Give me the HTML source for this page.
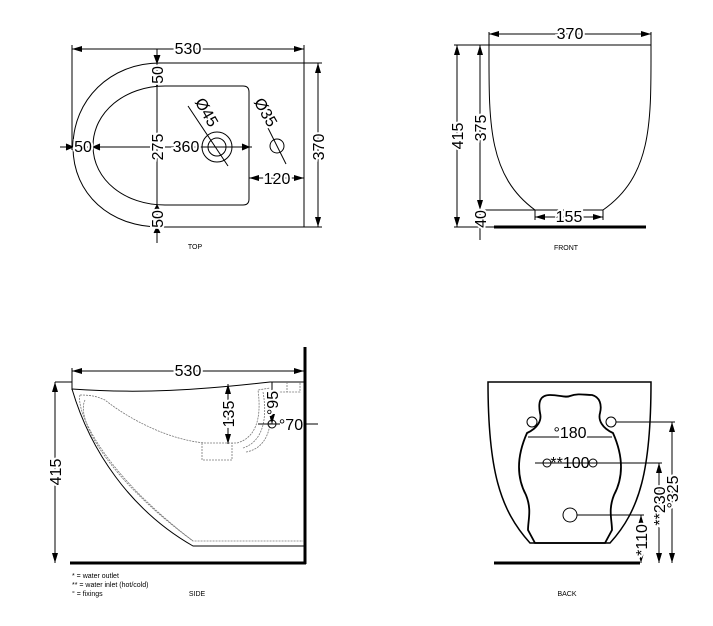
<!DOCTYPE html>
<html><head><meta charset="utf-8"><style>
html,body{margin:0;padding:0;background:#fff;}
svg{display:block;font-family:"Liberation Sans",sans-serif;}
.d{font-size:16px;fill:#000;}
.s{font-size:7px;fill:#000;}
</style></head><body>
<svg width="713" height="626" viewBox="0 0 713 626" xmlns="http://www.w3.org/2000/svg">
<defs>
<marker id="a" viewBox="0 0 10 6" refX="10" refY="3" markerWidth="10" markerHeight="6" orient="auto-start-reverse" markerUnits="userSpaceOnUse"><path d="M0,0 L10,3 L0,6 z" fill="#000"/></marker>
</defs>
<g fill="none" stroke="#000" stroke-width="1">
<!-- TOP VIEW -->
<path d="M304,63 L160,63 C110,63 73,100 73,147 C73,194 110,227 160,227 L304,227 Z"/>
<path d="M243,86 L165,86 C125,86 93,112 93,146 C93,180 125,205 165,205 L243,205 Q249,205 249,199 L249,92 Q249,86 243,86 Z"/>
<line x1="72" y1="49" x2="304" y2="49" marker-start="url(#a)" marker-end="url(#a)"/>
<line x1="72" y1="45" x2="72" y2="150"/>
<line x1="304" y1="45" x2="304" y2="63"/>
<line x1="157" y1="49" x2="157" y2="243" />
<path d="M154,55 L157,63 L160,55 M154,80 L157,86 L160,80 M154,211 L157,205 L160,211 M154,233 L157,227 L160,233" fill="#000"/>
<line x1="60" y1="147" x2="252" y2="147"/>
<path d="M66,144 L73,147 L66,150 M100,144 L93,147 L100,150 M242,144 L249,147 L242,150" fill="#000"/>
<circle cx="217" cy="147" r="15"/><circle cx="217" cy="147" r="9"/>
<line x1="188" y1="106" x2="228" y2="166"/>
<circle cx="277" cy="146" r="7"/>
<line x1="268" y1="128" x2="286" y2="164"/>
<line x1="249" y1="178" x2="304" y2="178" marker-start="url(#a)" marker-end="url(#a)"/>
<line x1="318" y1="63" x2="318" y2="227" marker-start="url(#a)" marker-end="url(#a)"/>
<line x1="304" y1="63" x2="322" y2="63"/><line x1="304" y1="227" x2="322" y2="227"/>

<!-- FRONT VIEW -->
<line x1="489" y1="34" x2="651" y2="34" marker-start="url(#a)" marker-end="url(#a)"/>
<line x1="489" y1="32" x2="489" y2="45"/><line x1="651" y1="32" x2="651" y2="45"/>
<path d="M489,45 L651,45 C651,120 653,175 603,210 L535,210 C487,175 489,120 489,45 Z"/>
<line x1="494" y1="227" x2="646" y2="227" stroke-width="3"/>
<line x1="457" y1="45" x2="457" y2="227" marker-start="url(#a)" marker-end="url(#a)"/>
<line x1="454" y1="45" x2="489" y2="45"/><line x1="454" y1="227" x2="494" y2="227"/>
<line x1="480" y1="45" x2="480" y2="210" marker-start="url(#a)" marker-end="url(#a)"/>
<line x1="480" y1="210" x2="480" y2="240"/>
<line x1="478" y1="210" x2="535" y2="210"/>
<line x1="535" y1="210" x2="535" y2="220"/><line x1="603" y1="210" x2="603" y2="220"/>
<line x1="535" y1="217" x2="603" y2="217" marker-start="url(#a)" marker-end="url(#a)"/>

<!-- SIDE VIEW -->
<line x1="305" y1="347" x2="305" y2="564" stroke-width="3"/>
<line x1="70" y1="563" x2="306" y2="563" stroke-width="3"/>
<line x1="72" y1="371" x2="304" y2="371" marker-start="url(#a)" marker-end="url(#a)"/>
<line x1="72" y1="368" x2="72" y2="390"/>
<line x1="55" y1="382" x2="55" y2="563" marker-start="url(#a)" marker-end="url(#a)"/>
<line x1="55" y1="382" x2="72" y2="382"/>
<path d="M72,389 C140,394 200,390 270,382 L304,382"/>
<path d="M72,389 C90,450 130,510 193,546 L304,546"/>
<g stroke="#777" stroke-dasharray="2,1" stroke-width="0.8">
<path d="M80,395 C95,395 100,398 105,400 C130,420 170,440 205,443 L237,443"/>
<path d="M85,400 C75,420 110,480 193,541 L304,541"/>
<path d="M80,395 C76,410 100,470 193,541"/>
<path d="M202,443 L202,460 L232,460 L232,443"/>
<path d="M237,443 C255,438 262,420 258,390 L270,388 M243,448 C262,442 268,420 263,392 M246,452 C268,448 275,425 268,392 L300,392 L300,382"/>
<line x1="287" y1="382" x2="287" y2="392"/>
</g>
<line x1="228" y1="384" x2="228" y2="444" marker-start="url(#a)" marker-end="url(#a)"/>
<line x1="272" y1="382" x2="272" y2="424" marker-end="url(#a)"/>
<circle cx="272" cy="424" r="4"/>
<line x1="258" y1="424" x2="280" y2="424"/>
<line x1="305" y1="424" x2="318" y2="424"/>

<!-- BACK VIEW -->
<path d="M488,382 L651,382 C651,470 640,510 610,543 L530,543 C500,510 488,470 488,382 Z" stroke-width="1.5"/>
<line x1="494" y1="563" x2="640" y2="563" stroke-width="3"/>
<path d="M540,413 C538,402 540,395 550,395 C560,395 565,398 570,396 C578,393 585,395 592,395 C600,397 602,405 600,413 C598,420 602,428 613,433 C625,460 622,480 614,495 C608,510 612,520 612,530 L605,543 L535,543 L528,530 C528,520 532,510 526,495 C518,480 515,460 527,433 C538,428 542,420 540,413 Z" stroke-width="1.8"/>
<line x1="528" y1="437" x2="612" y2="437"/>
<circle cx="532" cy="422" r="5"/><circle cx="611" cy="422" r="5"/>
<line x1="616" y1="422" x2="675" y2="422"/>
<line x1="672" y1="422" x2="672" y2="563" marker-start="url(#a)" marker-end="url(#a)"/>
<line x1="535" y1="463" x2="662" y2="463"/>
<circle cx="547" cy="463" r="4"/><circle cx="593" cy="463" r="4"/>
<line x1="659" y1="463" x2="659" y2="563" marker-start="url(#a)" marker-end="url(#a)"/>
<circle cx="570" cy="515" r="7"/>
<line x1="577" y1="515" x2="644" y2="515"/>
<line x1="641" y1="515" x2="641" y2="528" marker-start="url(#a)"/>
<line x1="641" y1="548" x2="641" y2="563" marker-end="url(#a)"/>
</g>

<!-- TEXT -->
<g class="d">
<text x="188" y="54" text-anchor="middle" style="paint-order:stroke" stroke="#fff" stroke-width="4">530</text>
<text transform="translate(163,75) rotate(-90)" text-anchor="middle" stroke="#fff" stroke-width="4" style="paint-order:stroke">50</text>
<text transform="translate(163,147) rotate(-90)" text-anchor="middle" stroke="#fff" stroke-width="4" style="paint-order:stroke">275</text>
<text transform="translate(163,219) rotate(-90)" text-anchor="middle" stroke="#fff" stroke-width="4" style="paint-order:stroke">50</text>
<text x="83" y="152" text-anchor="middle" stroke="#fff" stroke-width="4" style="paint-order:stroke">50</text>
<text x="186" y="152" text-anchor="middle" stroke="#fff" stroke-width="4" style="paint-order:stroke">360</text>
<text transform="translate(202,115) rotate(60)" text-anchor="middle" stroke="#fff" stroke-width="4" style="paint-order:stroke">Ø45</text>
<text transform="translate(261,115) rotate(60)" text-anchor="middle" stroke="#fff" stroke-width="4" style="paint-order:stroke">Ø35</text>
<text x="277" y="184" text-anchor="middle" stroke="#fff" stroke-width="4" style="paint-order:stroke">120</text>
<text transform="translate(324,147) rotate(-90)" text-anchor="middle" stroke="#fff" stroke-width="4" style="paint-order:stroke">370</text>

<text x="570" y="39" text-anchor="middle" stroke="#fff" stroke-width="4" style="paint-order:stroke">370</text>
<text transform="translate(463,136) rotate(-90)" text-anchor="middle" stroke="#fff" stroke-width="4" style="paint-order:stroke">415</text>
<text transform="translate(486,128) rotate(-90)" text-anchor="middle" stroke="#fff" stroke-width="4" style="paint-order:stroke">375</text>
<text transform="translate(486,219) rotate(-90)" text-anchor="middle" stroke="#fff" stroke-width="4" style="paint-order:stroke">40</text>
<text x="569" y="222" text-anchor="middle" stroke="#fff" stroke-width="4" style="paint-order:stroke">155</text>

<text x="188" y="376" text-anchor="middle" stroke="#fff" stroke-width="4" style="paint-order:stroke">530</text>
<text transform="translate(61,472) rotate(-90)" text-anchor="middle" stroke="#fff" stroke-width="4" style="paint-order:stroke">415</text>
<text transform="translate(234,414) rotate(-90)" text-anchor="middle" stroke="#fff" stroke-width="4" style="paint-order:stroke">135</text>
<text transform="translate(278,403) rotate(-90)" text-anchor="middle" stroke="#fff" stroke-width="4" style="paint-order:stroke">°95</text>
<text x="291" y="430" text-anchor="middle">°70</text>

<text x="570" y="438" text-anchor="middle" stroke="#fff" stroke-width="4" style="paint-order:stroke">°180</text>
<text x="570" y="468" text-anchor="middle">**100</text>
<text transform="translate(678,492) rotate(-90)" text-anchor="middle" stroke="#fff" stroke-width="4" style="paint-order:stroke">°325</text>
<text transform="translate(665,506) rotate(-90)" text-anchor="middle" stroke="#fff" stroke-width="4" style="paint-order:stroke">**230</text>
<text transform="translate(647,540) rotate(-90)" text-anchor="middle" stroke="#fff" stroke-width="4" style="paint-order:stroke">*110</text>
</g>
<g class="s">
<text x="195" y="249" text-anchor="middle">TOP</text>
<text x="566" y="250" text-anchor="middle">FRONT</text>
<text x="197" y="596" text-anchor="middle">SIDE</text>
<text x="567" y="596" text-anchor="middle">BACK</text>
<text x="72" y="578">* = water outlet</text>
<text x="72" y="587">** = water inlet (hot/cold)</text>
<text x="72" y="596">° = fixings</text>
</g>
</svg>
</body></html>
